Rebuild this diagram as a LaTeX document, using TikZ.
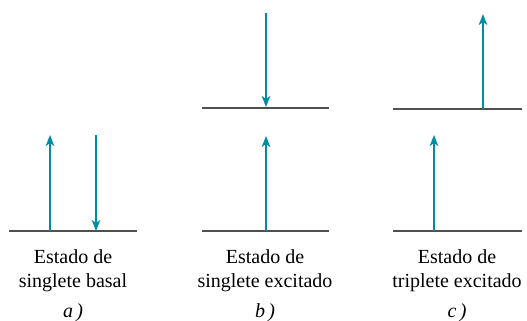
\documentclass[tikz,border=0pt]{standalone}
\usepackage{fontspec}
\setmainfont{Liberation Serif}
\usetikzlibrary{arrows.meta}
\definecolor{spin}{RGB}{0,140,162}
\definecolor{level}{RGB}{80,80,80}

\begin{document}
\begin{tikzpicture}[x=1pt, y=-1pt,
    every node/.style={inner sep=0pt, align=center, font=\fontsize{20}{24}\selectfont},
    levelline/.style={level, line width=1.4pt},
    spinarrow/.style={-{Stealth[length=11pt, width=8.5pt, inset=3pt]}, spin, line width=1.7pt},
    caption/.style={anchor=north},
    tag/.style={anchor=base, font=\fontsize{20}{24}\selectfont\itshape}
  ]
    \useasboundingbox (0,0) rectangle (527,321);

    % a) singlete basal
    \coordinate (aL) at (9,231);
    \coordinate (aR) at (137,231);
    \coordinate (aUpBot) at (50,231);
    \coordinate (aUpTop) at (50,135);
    \coordinate (aDnTop) at (96,135);
    \coordinate (aDnBot) at (96,231);
    \draw[levelline] (aL) -- (aR);
    \draw[spinarrow] (aUpBot) -- (aUpTop);
    \draw[spinarrow] (aDnTop) -- (aDnBot);
    \node (capA) [caption] at (73,249) {Estado de\\singlete basal};
    \node (tagA) [tag] at (73,317) {a\,)};

    % b) singlete excitado
    \coordinate (bL) at (202,231);
    \coordinate (bR) at (329,231);
    \coordinate (bL2) at (202,108);
    \coordinate (bR2) at (329,108);
    \coordinate (bUpBot) at (266,231);
    \coordinate (bUpTop) at (266,136);
    \coordinate (bDnTop) at (266,13);
    \coordinate (bDnBot) at (266,107);
    \draw[levelline] (bL) -- (bR);
    \draw[levelline] (bL2) -- (bR2);
    \draw[spinarrow] (bUpBot) -- (bUpTop);
    \draw[spinarrow] (bDnTop) -- (bDnBot);
    \node (capB) [caption] at (265,249) {Estado de\\singlete excitado};
    \node (tagB) [tag] at (265,317) {b\,)};

    % c) triplete excitado
    \coordinate (cL) at (393,231);
    \coordinate (cR) at (522,231);
    \coordinate (cL2) at (393,109);
    \coordinate (cR2) at (522,109);
    \coordinate (cUpBot) at (434,231);
    \coordinate (cUpTop) at (434,135);
    \coordinate (cUp2Bot) at (483,109);
    \coordinate (cUp2Top) at (483,14);
    \draw[levelline] (cL) -- (cR);
    \draw[levelline] (cL2) -- (cR2);
    \draw[spinarrow] (cUpBot) -- (cUpTop);
    \draw[spinarrow] (cUp2Bot) -- (cUp2Top);
    \node (capC) [caption] at (457,249) {Estado de\\triplete excitado};
    \node (tagC) [tag] at (457,317) {c\,)};
  \end{tikzpicture}
\end{document}
